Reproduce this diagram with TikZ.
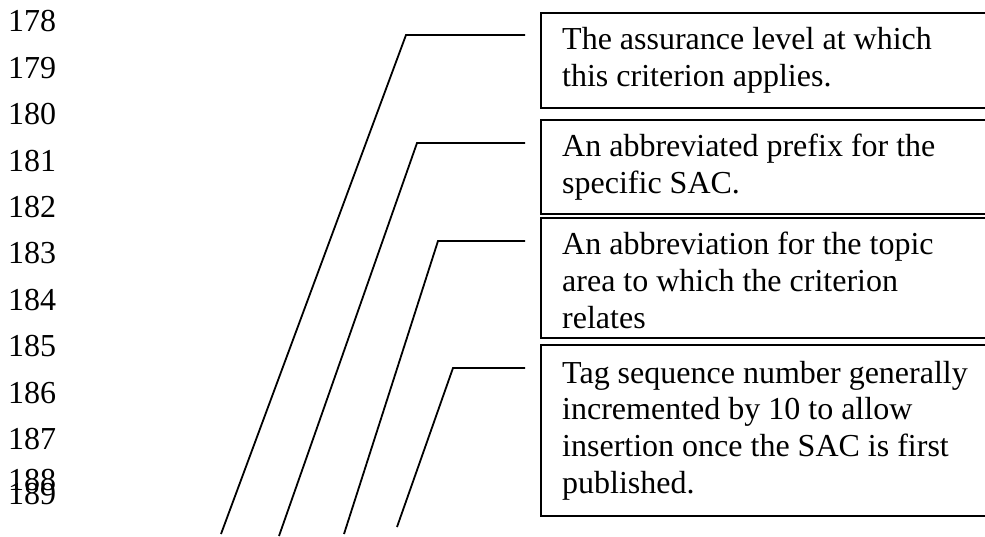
\documentclass[tikz,border=0pt]{standalone}
\usepackage{fontspec}
\setmainfont{Liberation Serif}
\begin{document}
\begin{tikzpicture}[x=1bp,y=-1bp,
  txt/.style={font=\fontsize{32bp}{36.7bp}\selectfont, inner sep=0pt, anchor=base west, align=left},
  num/.style={font=\fontsize{32bp}{36.7bp}\selectfont, inner sep=0pt, anchor=base west},
  frame/.style={draw, line width=1.8bp, anchor=north west, minimum width=480bp, inner sep=0pt},
  lead/.style={line width=1.8bp}]
\useasboundingbox (0,0) rectangle (985,537);
\clip (0,0) rectangle (985,537);
% line numbers
\foreach \n/\y in {178/32,179/78.4,180/124.8,181/171.2,182/217.6,183/264,184/310.4,185/356.8,186/403.2,187/449.6,188/490,189/504}
  \node[num] (n\n) at (8,\y) {\n};
% boxes
\node[frame, minimum height=95bp] (b1) at (540,12) {};
\node[frame, minimum height=94bp] (b2) at (540,119) {};
\node[frame, minimum height=120bp] (b3) at (540,217) {};
\node[frame, minimum height=171bp] (b4) at (540,344) {};
% texts (base anchor = baseline of the last line)
\node[txt] (t1) at (562,86.7) {The assurance level at which\\this criterion applies.};
\node[txt] (t2) at (562,193.7) {An abbreviated prefix for the\\specific SAC.};
\node[txt] (t3) at (562,328.4) {An abbreviation for the topic\\area to which the criterion\\relates};
\node[txt] (t4) at (562,493.1) {Tag sequence number generally\\incremented by 10 to allow\\insertion once the SAC is first\\published.};
% leader lines
\coordinate (s1) at (221,534); \coordinate (k1) at (406,35);  \coordinate (e1) at (525,35);
\coordinate (s2) at (279,536); \coordinate (k2) at (417,143); \coordinate (e2) at (525,143);
\coordinate (s3) at (344,534); \coordinate (k3) at (438,241); \coordinate (e3) at (525,241);
\coordinate (s4) at (397,527); \coordinate (k4) at (453,368); \coordinate (e4) at (525,368);
\draw[lead] (s1) -- (k1) -- (e1);
\draw[lead] (s2) -- (k2) -- (e2);
\draw[lead] (s3) -- (k3) -- (e3);
\draw[lead] (s4) -- (k4) -- (e4);
\end{tikzpicture}
\end{document}
